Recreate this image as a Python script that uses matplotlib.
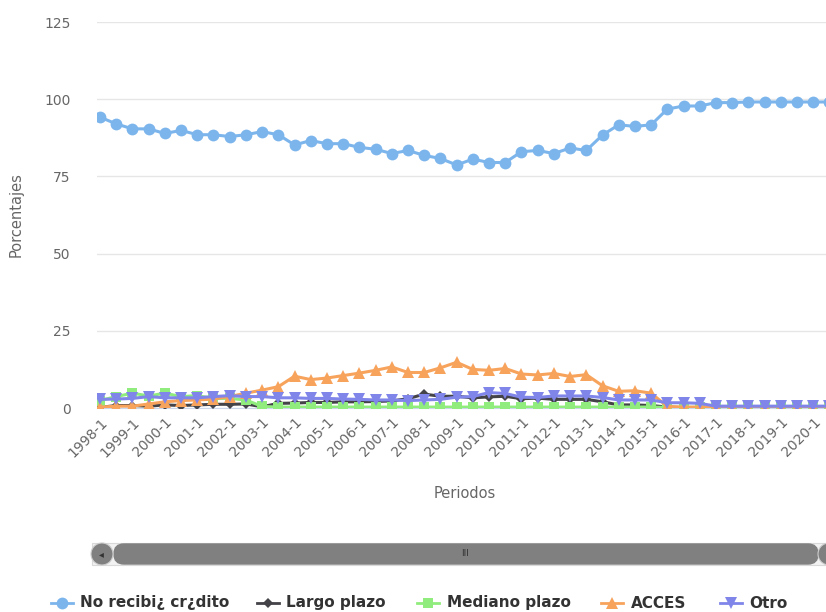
import matplotlib
matplotlib.use("Agg")
import matplotlib.pyplot as plt
from matplotlib.patches import FancyBboxPatch, Ellipse
from matplotlib.lines import Line2D

W, H = 826, 612

# periods 1998-1 .. 2020-2
periods = [f"{y}-{s}" for y in range(1998, 2021) for s in (1, 2)]

no_recibio = [94.2, 92.0, 90.4, 90.4, 88.9, 89.9, 88.5, 88.5, 87.9, 88.5,
              89.5, 88.5, 85.2, 86.6, 85.6, 85.6, 84.4, 83.8, 82.4, 83.4,
              81.8, 80.8, 78.7, 80.6, 79.5, 79.5, 83.0, 83.4, 82.4, 84.2,
              83.4, 88.4, 91.7, 91.2, 91.7, 96.8, 97.8, 97.8, 98.9, 98.9,
              99.1, 99.1, 99.1, 99.1, 99.1, 99.1]
largo = [0.2, 0.8, 0.8, 0.6, 1.0, 0.8, 1.0, 1.2, 1.2, 1.3,
         0.4, 1.5, 1.6, 1.8, 1.8, 2.0, 2.0, 2.1, 2.3, 3.0,
         4.5, 3.8, 3.8, 3.3, 3.6, 3.8, 3.0, 3.2, 2.8, 2.8,
         2.8, 2.0, 1.0, 1.0, 0.8, 0.3, 0.1, 0.1, 0.1, 0.1,
         0.1, 0.1, 0.1, 0.1, 0.1, 0.1]
mediano = [2.4, 3.7, 4.8, 3.9, 4.8, 3.7, 4.0, 3.1, 3.1, 2.6,
           0.5, 0.3, 0.3, 0.3, 0.3, 0.3, 0.3, 0.3, 0.3, 0.3,
           0.3, 0.3, 0.3, 0.3, 0.3, 0.3, 0.3, 0.3, 0.3, 0.3,
           0.3, 0.3, 0.3, 0.3, 0.3, 0.2, 0.2, 0.2, 0.2, 0.2,
           0.2, 0.2, 0.2, 0.2, 0.2, 0.2]
acces = [0.3, 0.6, 0.6, 1.3, 2.0, 2.4, 2.6, 2.9, 3.7, 4.8,
         5.8, 6.9, 10.3, 9.2, 9.7, 10.5, 11.3, 12.2, 13.3, 11.5,
         11.5, 13.0, 14.8, 12.5, 12.2, 12.8, 11.0, 10.7, 11.2, 10.2,
         10.8, 7.2, 5.4, 5.6, 4.8, 0.5, 0.3, 0.3, 0.3, 0.3,
         0.3, 0.3, 0.3, 0.3, 0.3, 0.3]
otro = [2.8, 2.9, 3.1, 3.7, 3.3, 3.3, 3.3, 3.7, 4.0, 3.7,
        3.7, 3.3, 3.3, 3.1, 3.1, 2.9, 2.8, 2.6, 2.6, 2.4,
        2.6, 2.8, 3.5, 3.7, 5.0, 4.7, 3.5, 3.4, 3.9, 3.9,
        3.9, 3.4, 2.6, 2.6, 2.6, 1.7, 1.7, 1.5, 0.6, 0.6,
        0.6, 0.6, 0.6, 0.6, 0.6, 0.6]

series = [
    ("No recibi¿ cr¿dito", no_recibio, "#7cb5ec", "o", 8.5),
    ("Largo plazo", largo, "#434348", "D", 5.5),
    ("Mediano plazo", mediano, "#90ed7d", "s", 7.5),
    ("ACCES", acces, "#f7a35c", "^", 8.5),
    ("Otro", otro, "#8085e9", "v", 8.5),
]

fig = plt.figure(figsize=(W / 100, H / 100), dpi=100)
px = 16.21  # pixels per category
x0, x1 = -0.185, 45.6
ax = fig.add_axes([97 / W, 1 - 408 / H, (x1 - x0) * px / W, 386 / H])

x = list(range(len(periods)))
for name, vals, col, mk, ms in series:
    ax.plot(x, vals, color=col, lw=2.2, marker=mk, markersize=ms,
            markeredgewidth=0, zorder=3)

ax.set_xlim(x0, x1)
ax.set_ylim(0, 125)
ax.set_yticks([0, 25, 50, 75, 100, 125])
ax.grid(axis="y", color="#e6e6e6", lw=1)
ax.set_axisbelow(True)
for s in ["top", "right", "left"]:
    ax.spines[s].set_visible(False)
ax.spines["bottom"].set_color("#ccd6eb")
ax.tick_params(axis="y", length=0, pad=19, labelsize=10, labelcolor="#666666")
ax.tick_params(axis="x", length=0, pad=5, labelsize=10, labelcolor="#666666")

tick_pos = list(range(0, len(periods), 2))
ax.set_xticks(tick_pos)
ax.set_xticklabels([periods[i] for i in tick_pos], rotation=45,
                   ha="right", va="top", rotation_mode="anchor")
ax.set_ylabel("Porcentajes", fontsize=10.5, color="#666666", labelpad=15)
fig.text(465 / W, 1 - 494 / H, "Periodos", fontsize=10.5, color="#666666",
         ha="center", va="center")

# scrollbar
track = FancyBboxPatch((92 / W, 1 - 565 / H), 760 / W, 22 / H,
                       boxstyle="square,pad=0", fc="#f2f2f2", ec="#d9d9d9",
                       lw=0.8, transform=fig.transFigure)
fig.patches.append(track)
bar = FancyBboxPatch((114 / W, 1 - 564 / H), 704 / W, 20 / H,
                     boxstyle="round,pad=0,rounding_size=0.012",
                     fc="#808080", ec="#808080", transform=fig.transFigure,
                     mutation_aspect=W / H)
fig.patches.append(bar)
for cx in (102, 829):
    fig.patches.append(Ellipse((cx / W, 1 - 554 / H), 22 / W, 22 / H,
                               fc="#808080", ec="#cccccc", lw=0.8,
                               transform=fig.transFigure))
fig.text(101 / W, 1 - 554 / H, "◂", fontsize=7, color="#333333",
         ha="center", va="center")
fig.text(465 / W, 1 - 553 / H, "III", fontsize=6.5, color="#333333",
         ha="center", va="center")

# legend
leg_y = 1 - 603 / H
leg_items = [(62, 80), (268, 286), (428, 447), (612, 631), (731, 749)]
for (cx, tx), (name, vals, col, mk, ms) in zip(leg_items, series):
    fig.add_artist(Line2D([(cx - 11) / W, (cx + 11) / W], [leg_y, leg_y],
                          color=col, lw=2, marker=None,
                          transform=fig.transFigure))
    fig.add_artist(Line2D([cx / W], [leg_y], color=col, marker=mk,
                          markersize=ms, markeredgewidth=0,
                          transform=fig.transFigure))
    fig.text(tx / W, leg_y, name, fontsize=11, fontweight="bold",
             color="#333333", ha="left", va="center")

fig.savefig("out.png", dpi=100)
